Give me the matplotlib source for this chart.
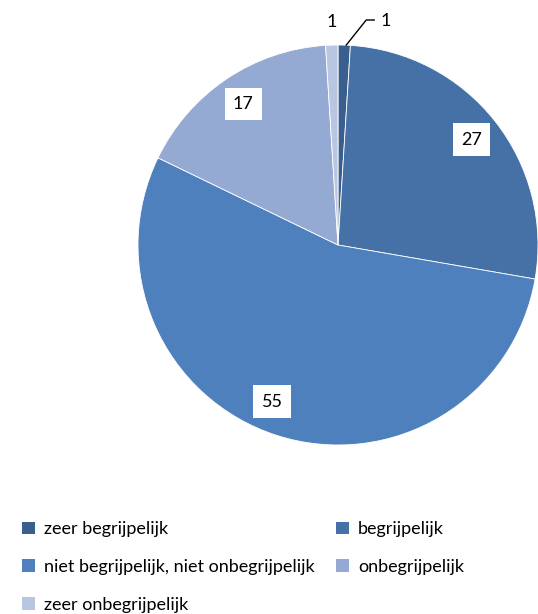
import numpy as np
import matplotlib.pyplot as plt
from matplotlib.patches import Patch

plt.rcParams['font.family'] = ['Lato', 'DejaVu Sans']

categories = ['zeer begrijpelijk', 'begrijpelijk', 'niet begrijpelijk, niet onbegrijpelijk',
              'onbegrijpelijk', 'zeer onbegrijpelijk']
values = [1, 27, 55, 17, 1]
colors = ['#3A5F8E', '#4571A6', '#4E80BD', '#94AAD3', '#B9C6E1']

fig = plt.figure(figsize=(5.38, 6.14), dpi=100)
W, H = 538, 614
# pie centre ~ (338, 245) px, radius ~200 px
ax = fig.add_axes([138 / W, (H - 445) / H, 400 / W, 400 / H])
wedges, _ = ax.pie(values, colors=colors, startangle=90, counterclock=False,
                   wedgeprops=dict(edgecolor='white', linewidth=0.6))
ax.set_xlim(-1, 1)
ax.set_ylim(-1, 1)
ax.set_aspect('equal')
ax.axis('off')

# small angular nudges (degrees) for the boxed labels
nudge = {2: -5}

for i, w in enumerate(wedges):
    mid = (w.theta1 + w.theta2) / 2 + nudge.get(i, 0)
    ang = np.deg2rad(mid)
    x, y = np.cos(ang), np.sin(ang)
    if values[i] > 5:
        r = 0.85
        ax.text(r * x, r * y, str(values[i]), ha='center', va='center', fontsize=13,
                bbox=dict(facecolor='white', edgecolor='none', pad=6))
    elif i == 0:
        # leader line to the label at upper right
        ax.plot([x + 0.01, x + 0.11, x + 0.15], [y, 1.125, 1.125],
                color='black', lw=1, clip_on=False)
        ax.text(x + 0.18, 1.12, str(values[i]), ha='left', va='center', fontsize=13)
    else:
        ax.text(x, 1.115, str(values[i]), ha='center', va='center', fontsize=13)

handles = [Patch(facecolor=c, edgecolor='none') for c in colors]
order = [0, 2, 4, 1, 3]
fig.legend([handles[i] for i in order], [categories[i] for i in order],
           loc='upper left', bbox_to_anchor=(6 / W, 1 - 505 / H), ncol=2,
           frameon=False, fontsize=13, handlelength=0.7, handleheight=0.7,
           handletextpad=0.5, labelspacing=1.2, columnspacing=1.2)

fig.savefig('out.png', dpi=100)
